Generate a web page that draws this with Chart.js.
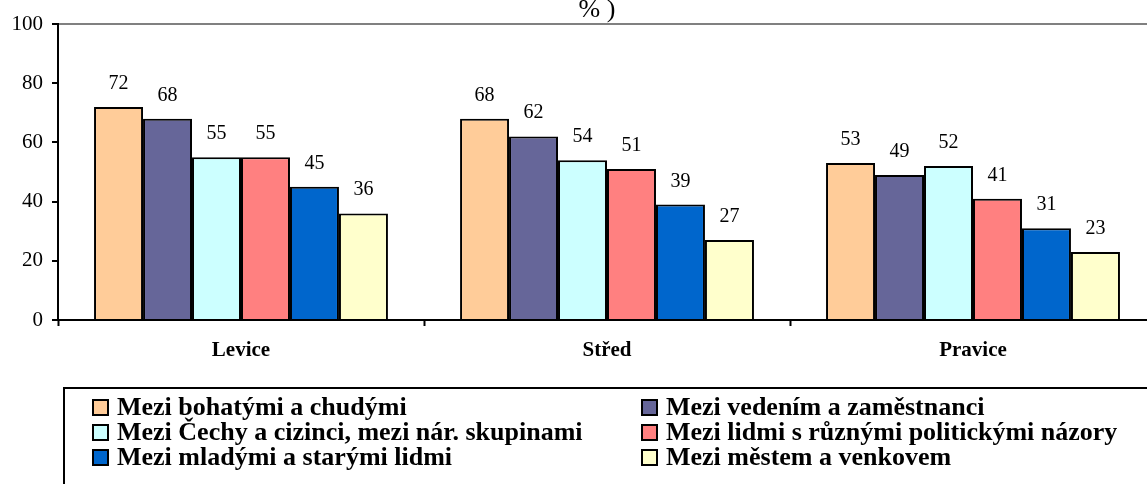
<!DOCTYPE html>
<html>
<head>
<meta charset="utf-8">
<script src="https://cdn.jsdelivr.net/npm/chart.js@4/dist/chart.umd.min.js"></script>
<style>
  html, body { margin: 0; padding: 0; background: #fff; overflow: hidden; }
  #wrap { width: 1160px; height: 484px; }
</style>
</head>
<body>
<div id="wrap"><canvas id="chart" width="1160" height="484"></canvas></div>
<script>
// data
const categories = ['Levice', 'Střed', 'Pravice'];
const seriesNames = [
  'Mezi bohatými a chudými',
  'Mezi vedením a zaměstnanci',
  'Mezi Čechy a cizinci, mezi nár. skupinami',
  'Mezi lidmi s různými politickými názory',
  'Mezi mladými a starými lidmi',
  'Mezi městem a venkovem'
];
const bohati   = [72, 68, 53];
const vedeni   = [68, 62, 49];
const cizinci  = [55, 54, 52];
const politika = [55, 51, 41];
const vek      = [45, 39, 31];
const venkov   = [36, 27, 23];
const seriesColors = ['#FFCC99', '#666699', '#CCFFFF', '#FF8080', '#0066CC', '#FFFFCC'];
const yTicks = [0, 20, 40, 60, 80, 100];

const serif = '"Liberation Serif", "Times New Roman", serif';

// values above bars
const valueLabels = {
  id: 'valueLabels',
  afterDatasetsDraw(chart) {
    const ctx = chart.ctx;
    ctx.save();
    ctx.font = '20px ' + serif;
    ctx.fillStyle = '#000';
    ctx.textAlign = 'center';
    ctx.textBaseline = 'alphabetic';
    chart.data.datasets.forEach((ds, i) => {
      chart.getDatasetMeta(i).data.forEach((bar, j) => {
        ctx.fillText(ds.data[j], bar.x, bar.y - 18);
      });
    });
    ctx.restore();
  }
};

// cut-off title + boxed legend in two columns
const extras = {
  id: 'extras',
  afterDraw(chart) {
    const ctx = chart.ctx;
    ctx.save();
    ctx.fillStyle = '#000';
    ctx.font = '26px ' + serif;
    ctx.textAlign = 'center';
    ctx.fillText('% )', 597, 17);

    ctx.strokeStyle = '#000';
    ctx.lineWidth = 2;
    ctx.strokeRect(64, 388, 1200, 200);

    ctx.font = 'bold 26px ' + serif;
    ctx.textAlign = 'left';
    ctx.textBaseline = 'middle';
    const colX = [93, 642];
    chart.data.datasets.forEach((ds, i) => {
      const x = colX[i % 2];
      const y = 407 + Math.floor(i / 2) * 25;
      ctx.fillStyle = ds.backgroundColor;
      ctx.fillRect(x, y - 7, 15, 15);
      ctx.strokeRect(x, y - 7, 15, 15);
      ctx.fillStyle = '#000';
      ctx.fillText(ds.label, x + 24, y + 1);
    });
    ctx.restore();
  }
};

const data = [bohati, vedeni, cizinci, politika, vek, venkov];

new Chart(document.getElementById('chart'), {
  type: 'bar',
  data: {
    labels: categories,
    datasets: data.map((d, i) => ({
      label: seriesNames[i],
      data: d,
      backgroundColor: seriesColors[i],
      borderColor: '#000',
      borderWidth: 2,
      borderSkipped: 'bottom',
      categoryPercentage: 0.803,
      barPercentage: 1
    }))
  },
  options: {
    responsive: false,
    animation: false,
    layout: { padding: { top: 24, right: 4, left: 0, bottom: 0 } },
    plugins: { legend: { display: false }, title: { display: false }, tooltip: { enabled: false } },
    scales: {
      x: {
        border: { color: '#000', width: 2 },
        grid: { color: 'transparent', tickColor: '#000', tickLength: 6, tickWidth: 2, offset: true },
        ticks: { color: '#000', font: { family: serif, size: 21, weight: 'bold' }, padding: 12 },
        afterFit(s) { s.height = 164; }
      },
      y: {
        min: 0, max: 100,
        afterBuildTicks(s) { s.ticks = yTicks.map(v => ({ value: v })); },
        border: { color: '#000', width: 2 },
        grid: {
          color: c => (c.tick && c.tick.value === 100 ? '#808080' : 'transparent'),
          lineWidth: 2,
          tickColor: '#000', tickLength: 6, tickWidth: 2
        },
        ticks: { color: '#000', font: { family: serif, size: 21 }, padding: 9 },
        afterFit(s) { s.width = 58; }
      }
    }
  },
  plugins: [valueLabels, extras]
});
</script>
</body>
</html>
